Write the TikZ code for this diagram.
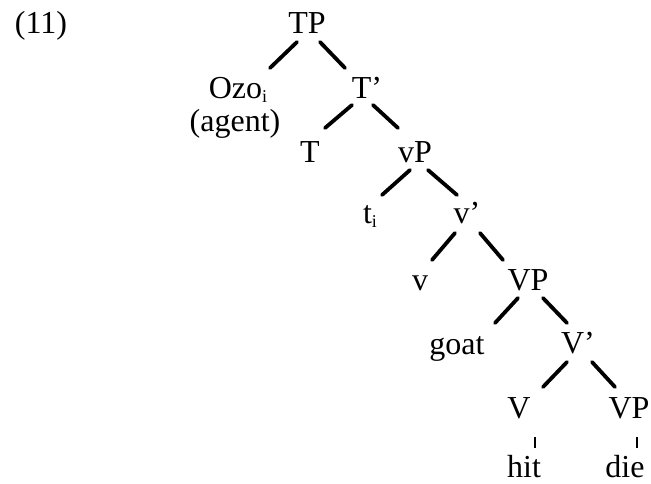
\documentclass[tikz,border=0pt]{standalone}
\usepackage{fontspec}
\setmainfont{Liberation Serif}
\begin{document}
\begin{tikzpicture}[x=1pt,y=-1pt,
  lbl/.style={inner sep=0pt,anchor=base,font=\fontsize{32}{36}\selectfont},
  br/.style={line width=3.8pt,line cap=round},
  bar/.style={line width=1.6pt}]
\useasboundingbox (0,0) rectangle (651,483);
\newcommand{\idx}[1]{\raisebox{-0.3ex}{\fontsize{18}{20}\selectfont #1}}
% example number
\node[lbl] (num) at (41,33) {(11)};
% tree labels
\node[lbl] (TP) at (307,33) {TP};
\node[lbl] (Ozo) at (238,98) {Ozo\idx{i}};
\node[lbl] (agent) at (235,131) {(agent)};
\node[lbl] (Tbar) at (367,98) {T’};
\node[lbl] (T) at (310,162) {T};
\node[lbl] (vP) at (415,162) {vP};
\node[lbl] (t) at (370,223) {t\idx{i}};
\node[lbl] (vbar) at (467,223) {v’};
\node[lbl] (v) at (420,290) {v};
\node[lbl] (VP) at (528,290) {VP};
\node[lbl] (goat) at (457,354) {goat};
\node[lbl] (Vbar) at (578,353) {V’};
\node[lbl] (V) at (519,418) {V};
\node[lbl] (VPl) at (629,418) {VP};
\node[lbl] (hit) at (524,477) {hit};
\node[lbl] (die) at (625,477) {die};
% branches
\draw[br] ([shift={(-10,9)}]TP.base) -- ([shift={(32,-30)}]Ozo.base);
\draw[br] ([shift={(13,9)}]TP.base) -- ([shift={(-22,-30)}]Tbar.base);
\draw[br] ([shift={(-15,7)}]Tbar.base) -- ([shift={(15,-34)}]T.base);
\draw[br] ([shift={(6,7)}]Tbar.base) -- ([shift={(-17,-34)}]vP.base);
\draw[br] ([shift={(-5,8)}]vP.base) -- ([shift={(12,-28)}]t.base);
\draw[br] ([shift={(13,8)}]vP.base) -- ([shift={(-10,-28)}]vbar.base);
\draw[br] ([shift={(-12,10)}]vbar.base) -- ([shift={(12,-30)}]v.base);
\draw[br] ([shift={(13,10)}]vbar.base) -- ([shift={(-25,-30)}]VP.base);
\draw[br] ([shift={(-10,8)}]VP.base) -- ([shift={(38,-31)}]goat.base);
\draw[br] ([shift={(15,8)}]VP.base) -- ([shift={(-11,-30)}]Vbar.base);
\draw[br] ([shift={(-11,9)}]Vbar.base) -- ([shift={(24,-31)}]V.base);
\draw[br] ([shift={(14,9)}]Vbar.base) -- ([shift={(-14,-31)}]VPl.base);
% lexical attachments
\draw[bar] ([shift={(16,19)}]V.base) -- ([shift={(11,-29)}]hit.base);
\draw[bar] ([shift={(8,19)}]VPl.base) -- ([shift={(12,-29)}]die.base);
\end{tikzpicture}
\end{document}
